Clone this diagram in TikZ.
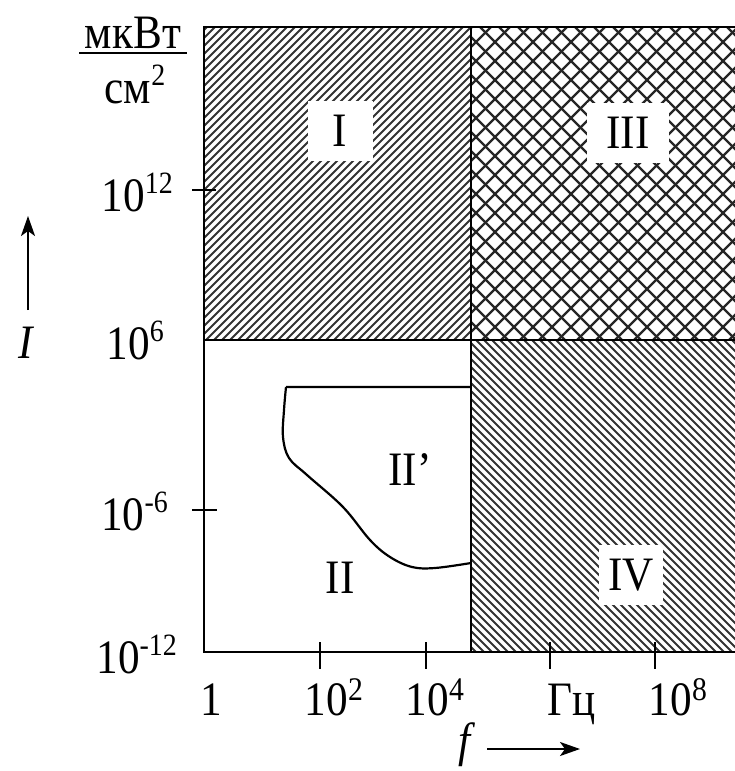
\documentclass[tikz,border=0pt]{standalone}
\usepackage{fontspec}
\setmainfont[FakeStretch=0.9]{Liberation Serif}
\usetikzlibrary{arrows.meta}
\newcommand\supy[1]{\raisebox{18pt}{\fontsize{31}{31}\selectfont #1}}
\newcommand\supx[1]{\raisebox{15pt}{\fontsize{33}{33}\selectfont #1}}
\begin{document}
\begin{tikzpicture}[x=1pt,y=-1pt,
  lbl/.style={font=\fontsize{48}{52}\selectfont, inner sep=0pt},
  frm/.style={line width=2.4pt, line cap=rect},
  hat/.style={line width=2pt, black!80},
  xhat/.style={line width=2.4pt, black!85},
  tickln/.style={line width=2.4pt},
  boxlbl/.style={lbl, fill=white, minimum height=60pt},
  curveln/.style={line width=2.2pt},
  arr/.style={line width=2.2pt, -{Stealth[length=20pt,width=14pt,inset=5pt]}}]
\useasboundingbox (0,0) rectangle (735,771);
% region I hatching
\begin{scope}
  \clip (204,27) rectangle (471,340);
  \foreach \k in {-330,-322,...,480} \draw[hat] (\k,340) -- ++(330,-330);
\end{scope}
% region III cross hatching
\begin{scope}
  \clip (471,27) rectangle (736,340);
  \foreach \k in {140,159,...,760} \draw[xhat] (\k,340) -- ++(330,-330);
  \foreach \k in {451,470,...,1080} \draw[xhat] (\k,340) -- ++(-330,-330);
\end{scope}
% region IV hatching
\begin{scope}
  \clip (471,340) rectangle (736,652);
  \foreach \k in {140,148,...,745} \draw[hat] (\k,340) -- ++(330,330);
\end{scope}
% frame and dividers
\draw[frm] (736,27) -- (204,27) -- (204,652) -- (736,652);
\draw[frm] (471,27) -- (471,652);
\draw[frm] (204,340) -- (736,340);
% ticks
\draw[tickln] (192,190) -- (216,190);
\draw[tickln] (192,510) -- (217,510);
\foreach \t in {320,426,550,655} \draw[tickln] (\t,642) -- (\t,669);
% region II' boundary
\draw[curveln, line join=round] (471,387) -- (286,387)
  plot[smooth, tension=0.6] coordinates {(286,387) (284,410) (283,437) (289,458) (307,475) (343,507) (370,540) (390,557) (412,567) (435,568) (471,563)};
% region labels
\node[boxlbl, minimum width=65pt] (rI) at (340,131) {I};
\node[boxlbl, minimum width=82pt] (rIII) at (628,133) {III};
\node[boxlbl, minimum width=64pt] (rIV) at (631,575) {IV};
\node[lbl] (rIIp) at (410,470) {II’};
\node[lbl] (rII) at (340,578) {II};
% y-axis labels
\node[lbl, anchor=base east] (y12) at (173,211) {10\supy{12}};
\node[lbl, anchor=base east] (y6) at (164,359) {10\supy{6}};
\node[lbl, anchor=base east] (ym6) at (168,530) {10\supy{-6}};
\node[lbl, anchor=base east] (ym12) at (177,673) {10\supy{-12}};
% x-axis labels
\node[lbl, anchor=base] (x0) at (211,715) {1};
\node[lbl, anchor=base] (x2) at (334,715) {10\supx{2}};
\node[lbl, anchor=base] (x4) at (435,715) {10\supx{4}};
\node[lbl, anchor=base] (xhz) at (572,715) {Гц};
\node[lbl, anchor=base] (x8) at (678,715) {10\supx{8}};
% units
\node[lbl, anchor=base] (u1) at (133,48) {мкВт};
\draw[line width=2.6pt] (79,53) -- (187,53);
\node[lbl, anchor=base] (u2) at (135,103) {см\supy{2}};
% axis names
\node[lbl, anchor=base] (nI) at (27,358) {\textit{I}};
\coordinate (aI1) at (28,310);
\coordinate (aI2) at (28,216);
\draw[arr] (aI1) -- (aI2);
\node[lbl, anchor=base] (nf) at (467,756) {\textit{f}};
\coordinate (af1) at (487,749);
\coordinate (af2) at (580,749);
\draw[arr] (af1) -- (af2);
\end{tikzpicture}
\end{document}
